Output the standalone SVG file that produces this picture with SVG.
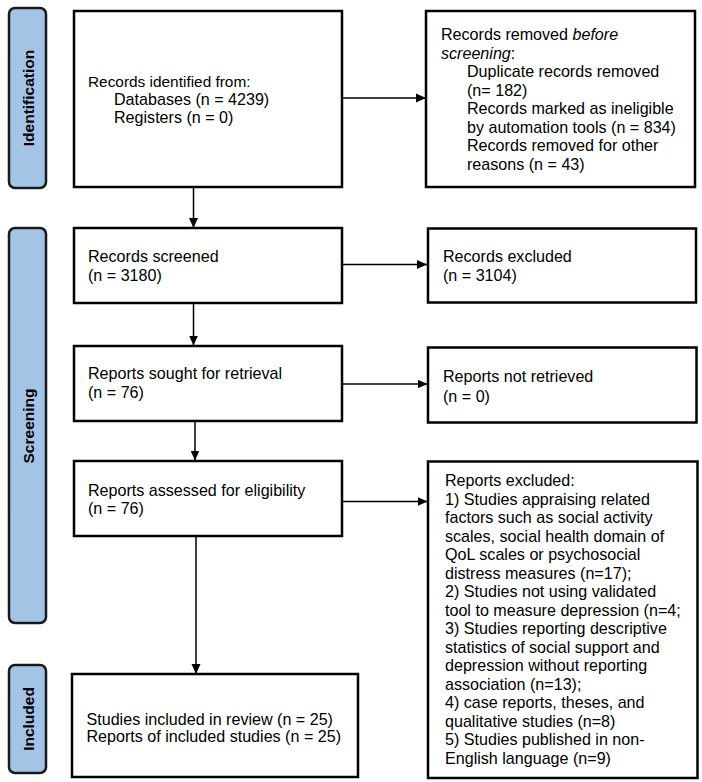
<svg xmlns="http://www.w3.org/2000/svg" width="702" height="782" viewBox="0 0 702 782">
<defs>
<marker id="ah" viewBox="0 0 10 10" refX="10" refY="5" markerWidth="10" markerHeight="10" markerUnits="userSpaceOnUse" orient="auto">
<path d="M0,0.5 L10,5 L0,9.5 Z" fill="#000"/>
</marker>
<style>
.box{fill:#fff;stroke:#000;stroke-width:2.5}
.side{fill:#a4c4e6;stroke:#1a1a1a;stroke-width:2.5}
.t{font-family:"Liberation Sans",Arial,sans-serif;font-size:16.1px;fill:#000}
.s{font-family:"Liberation Sans",Arial,sans-serif;font-size:15.5px;font-weight:bold;fill:#000}
.c{stroke:#000;stroke-width:1.5;fill:none;marker-end:url(#ah)}
</style>
</defs>
<rect width="702" height="782" fill="#fff"/>
<g id="side-identification">
<rect class="side" x="9" y="8" width="37" height="180" rx="6"/>
<text class="s" transform="translate(33.5,98) rotate(-90)" text-anchor="middle">Identification</text>
</g>
<g id="side-screening">
<rect class="side" x="9" y="228" width="37" height="395" rx="6"/>
<text class="s" transform="translate(33.5,426) rotate(-90)" text-anchor="middle">Screening</text>
</g>
<g id="side-included">
<rect class="side" x="9" y="665" width="37" height="108" rx="6"/>
<text class="s" transform="translate(33.5,719) rotate(-90)" text-anchor="middle">Included</text>
</g>
<g id="connectors">
<line class="c" x1="342" y1="98" x2="426" y2="98"/>
<line class="c" x1="193.5" y1="187" x2="193.5" y2="228"/>
<line class="c" x1="342" y1="264.5" x2="427" y2="264.5"/>
<line class="c" x1="193.5" y1="303" x2="193.5" y2="345.5"/>
<line class="c" x1="342" y1="384" x2="427.5" y2="384"/>
<line class="c" x1="195" y1="421" x2="195" y2="460.5"/>
<line class="c" x1="342" y1="501.5" x2="427.5" y2="501.5"/>
<line class="c" x1="196" y1="536" x2="196" y2="674"/>
</g>
<g id="n-identified">
<rect class="box" x="74" y="11" width="268" height="176"/>
<text class="t" x="88" y="87" style="font-size:15.4px">Records identified from:</text>
<text class="t" x="114" y="105">Databases (n = 4239)</text>
<text class="t" x="114" y="123">Registers (n = 0)</text>
</g>
<g id="n-removed">
<rect class="box" x="426" y="11" width="269" height="176"/>
<text class="t" x="441" y="40">Records removed <tspan font-style="italic">before</tspan></text>
<text class="t" x="441" y="58.5"><tspan font-style="italic">screening</tspan>:</text>
<text class="t" x="467" y="77">Duplicate records removed</text>
<text class="t" x="467" y="95.5">(n= 182)</text>
<text class="t" x="467" y="114">Records marked as ineligible</text>
<text class="t" x="467" y="132.5">by automation tools (n = 834)</text>
<text class="t" x="467" y="151">Records removed for other</text>
<text class="t" x="467" y="169.5">reasons (n = 43)</text>
</g>
<g id="n-screened">
<rect class="box" x="74" y="228" width="268" height="75"/>
<text class="t" x="88" y="262">Records screened</text>
<text class="t" x="88" y="281">(n = 3180)</text>
</g>
<g id="n-excluded">
<rect class="box" x="428" y="228.5" width="268" height="74"/>
<text class="t" x="443" y="262">Records excluded</text>
<text class="t" x="443" y="281">(n = 3104)</text>
</g>
<g id="n-sought">
<rect class="box" x="74" y="346" width="268" height="75"/>
<text class="t" x="88" y="379">Reports sought for retrieval</text>
<text class="t" x="88" y="398">(n = 76)</text>
</g>
<g id="n-notretrieved">
<rect class="box" x="428" y="347.5" width="268.5" height="75"/>
<text class="t" x="443" y="382">Reports not retrieved</text>
<text class="t" x="443" y="401.5">(n = 0)</text>
</g>
<g id="n-assessed">
<rect class="box" x="74" y="461" width="268" height="75"/>
<text class="t" x="88" y="496">Reports assessed for eligibility</text>
<text class="t" x="88" y="514">(n = 76)</text>
</g>
<g id="n-reportsexcluded">
<rect class="box" x="428" y="461.5" width="269.5" height="316.5"/>
<text class="t" x="445" y="486">Reports excluded:</text>
<text class="t" x="445" y="504.5">1) Studies appraising related</text>
<text class="t" x="445" y="523">factors such as social activity</text>
<text class="t" x="445" y="541.5">scales, social health domain of</text>
<text class="t" x="445" y="560">QoL scales or psychosocial</text>
<text class="t" x="445" y="578.5">distress measures (n=17);</text>
<text class="t" x="445" y="597">2) Studies not using validated</text>
<text class="t" x="445" y="615.5">tool to measure depression (n=4;</text>
<text class="t" x="445" y="634">3) Studies reporting descriptive</text>
<text class="t" x="445" y="652.5">statistics of social support and</text>
<text class="t" x="445" y="671">depression without reporting</text>
<text class="t" x="445" y="689.5">association (n=13);</text>
<text class="t" x="445" y="708">4) case reports, theses, and</text>
<text class="t" x="445" y="726.5">qualitative studies (n=8)</text>
<text class="t" x="445" y="745">5) Studies published in non-</text>
<text class="t" x="445" y="763.5">English language (n=9)</text>
</g>
<g id="n-included">
<rect class="box" x="72" y="674" width="286" height="103"/>
<text class="t" x="86.5" y="724.5">Studies included in review (n = 25)</text>
<text class="t" x="86.5" y="742">Reports of included studies (n = 25)</text>
</g>
</svg>
